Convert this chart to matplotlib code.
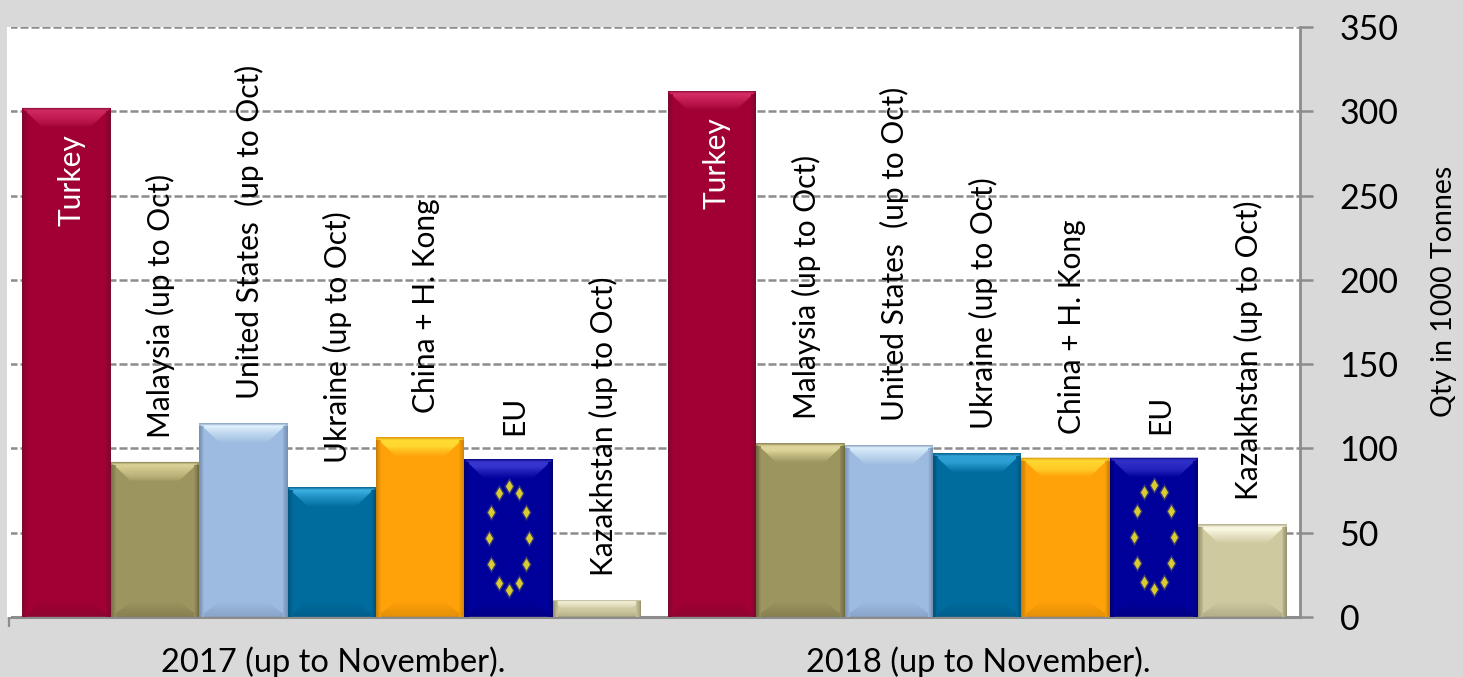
#!/bin/python3

import matplotlib
matplotlib.use("Agg")
import matplotlib.pyplot as plt
from matplotlib.colors import to_rgb
from matplotlib.patches import Polygon, Rectangle
import numpy as np

years = ["2017 (up to November).", "2018 (up to November)."]
countries = [
    "Turkey",
    "Malaysia (up to Oct)",
    "United States  (up to Oct)",
    "Ukraine (up to Oct)",
    "China + H. Kong",
    "EU",
    "Kazakhstan (up to Oct)",
]
qty_2017 = [302, 92, 115, 77, 106.5, 93.5, 10]
qty_2018 = [312, 103, 102, 97, 94.5, 94.5, 55]
yticks = [0, 50, 100, 150, 200, 250, 300, 350]

# base, highlight, dark edge
palette = [
    ("#A00034", "#E0356F", "#760A2C"),
    ("#9D9560", "#EFE5A8", "#6A653C"),
    ("#9DBBE0", "#E4F6FF", "#7088AC"),
    ("#006C9E", "#40B4E8", "#004E74"),
    ("#FFA108", "#FFEE40", "#C07A08"),
    ("#00009B", "#4444DC", "#00006C"),
    ("#CFC9A0", "#FFFFEC", "#8F8A68"),
]

BG = "#D9D9D9"
GRID = "#8C8C8C"
W, H = 1463, 677
BAR_W = 0.137

plt.rcParams["font.family"] = ["Lato", "DejaVu Sans"]

fig = plt.figure(figsize=(W / 100, H / 100), dpi=100, facecolor=BG)
fig.patches.append(Rectangle((7 / W, 1 - 617 / H), 4 / W, 590 / H, transform=fig.transFigure,
                             facecolor="white", linewidth=0))
ax = fig.add_axes([9 / W, 1 - 617 / H, 1291 / W, 590 / H])
ax.set_xlim(0, 2)
ax.set_ylim(0, 350)
ax.set_facecolor("white")

# px to data factors
PX_X = 2 / 1291
PX_Y = 350 / 590


def mix(c1, c2, t):
    a, b = np.array(to_rgb(c1)), np.array(to_rgb(c2))
    return tuple(a + (b - a) * t)


def bevel_bar(x, val, cols):
    base, light, dark = cols
    l, r = x - BAR_W / 2, x + BAR_W / 2
    ax.bar(x, val, BAR_W, color=base, linewidth=0, zorder=2)
    dx = 20 * PX_X
    dy = min(19 * PX_Y, val * 0.5)
    sx = dx * dy / (19 * PX_Y)
    n = 20
    # top, bottom and side bevels fade into the bar colour
    for k in range(n):
        t0, t1 = k / n, (k + 1) / n
        top = mix(light, base, t0 ** 1.6)
        if t0 < 0.12:
            top = mix(dark, light, t0 / 0.12 * 0.7 + 0.3)
        ax.add_patch(Polygon(
            [(l + sx * t0, val - dy * t0), (r - sx * t0, val - dy * t0),
             (r - sx * t1, val - dy * t1), (l + sx * t1, val - dy * t1)],
            color=top, linewidth=0, zorder=3))
        ax.add_patch(Polygon(
            [(l + sx * t0, dy * t0 * 0.8), (r - sx * t0, dy * t0 * 0.8),
             (r - sx * t1, dy * t1 * 0.8), (l + sx * t1, dy * t1 * 0.8)],
            color=mix(dark, base, 0.45 + 0.55 * t0), linewidth=0, zorder=3))
    side = 5 * PX_X
    for k in range(6):
        t0, t1 = k / 6, (k + 1) / 6
        c = mix(dark, base, 0.15 + 0.85 * t0)
        ax.fill_between([l + side * t0, l + side * t1], 0, val - dy * 0.15,
                        color=c, linewidth=0, zorder=3)
        ax.fill_between([r - side * t1, r - side * t0], 0, val - dy * 0.15,
                        color=c, linewidth=0, zorder=3)


def eu_stars(x, val):
    ang = np.arange(12) * np.pi / 6
    sx = x + 20 * PX_X * np.sin(ang)
    sy = val / 2 + 52 * PX_Y * np.cos(ang)
    ax.scatter(sx, sy, marker="d", s=75, color="#3A3A78", linewidth=0, zorder=4)
    ax.scatter(sx, sy, marker="d", s=36, color="#D8CC30", linewidth=0, zorder=4)


for g, vals in enumerate([qty_2017, qty_2018]):
    for i, (name, v) in enumerate(zip(countries, vals)):
        x = g + 0.5 + (i - 3) * BAR_W
        bevel_bar(x, v, palette[i])
        if name == "EU":
            eu_stars(x, v)
        if name == "Turkey":
            ax.text(x + 5 * PX_X, v - 26 * PX_Y, name, rotation=90, color="white",
                    fontsize=21.5, ha="center", va="top", zorder=5)
        else:
            ax.text(x + 6 * PX_X, v + 24 * PX_Y, name, rotation=90, color="black",
                    fontsize=21.5, ha="center", va="bottom", zorder=5)

ax.grid(axis="y", color=GRID, linestyle=(0, (3.2, 1.2)), linewidth=1.8, zorder=1)
ax.set_axisbelow(True)

for s in ["top", "left"]:
    ax.spines[s].set_visible(False)
ax.spines["right"].set_color(GRID)
ax.spines["right"].set_linewidth(2)
ax.spines["bottom"].set_color(GRID)
ax.spines["bottom"].set_linewidth(2.2)

ax.yaxis.tick_right()
ax.set_yticks(yticks)
ax.tick_params(axis="y", length=9.5, width=1.8, color=GRID, pad=19, labelsize=24.5)
ax.set_xticks([0])
ax.set_xticklabels([""])
ax.tick_params(axis="x", length=7, width=1.6, color=GRID)

for g, label in enumerate(years):
    ax.text(g + 0.5 + 1.5 * PX_X, -(45 * PX_Y), label, fontsize=23.5, ha="center", va="center",
            clip_on=False)

fig.text(1444 / W, 1 - 291 / H, "Qty in 1000 Tonnes", rotation=90, fontsize=20.5,
         ha="center", va="center")

fig.savefig("out.png", dpi=100, facecolor=BG)
